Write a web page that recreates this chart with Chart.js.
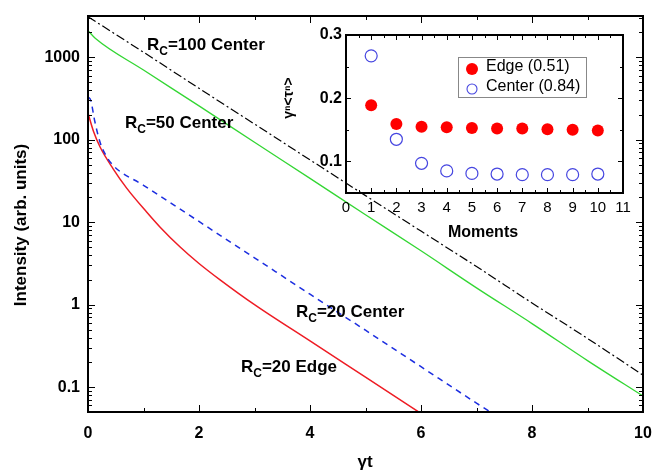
<!DOCTYPE html>
<html>
<head>
<meta charset="utf-8">
<script src="https://cdn.jsdelivr.net/npm/chart.js@4.4.1/dist/chart.umd.min.js"></script>
<style>
  body { margin: 0; background: #fff; }
  #wrap { position: relative; width: 652px; height: 471px; }
  #wrap canvas { position: absolute; left: 0; top: 0; }
</style>
</head>
<body>
<div id="wrap">
  <canvas id="mainChart" width="652" height="471"></canvas>
  <canvas id="insetChart" width="652" height="471"></canvas>
</div>
<script>
// main plot: intensity vs gamma*t (log scale)
const tC100 = [0, 1, 2, 3, 4, 5, 6, 7, 8, 9, 10];
const iC100 = [3100, 1150, 420, 155, 57, 21, 7.8, 2.9, 1.05, 0.39, 0.14];

const tC50 = [0, 0.13, 1, 2, 3, 4, 5, 6, 7, 8, 9, 10];
const iC50 = [2100, 1700, 700, 257, 93, 34, 12.3, 4.5, 1.6, 0.59, 0.21, 0.078];

const tC20 = [0, 0.05, 0.12, 0.22, 0.32, 0.45, 1, 2, 3, 4, 5, 6, 7, 7.4];
const iC20 = [330, 300, 170, 92, 65, 49, 28, 10.2, 3.7, 1.34, 0.49, 0.177, 0.064, 0.043];

const tE20 = [0, 0.1, 0.22, 0.45, 0.7, 1.06, 1.3, 1.66, 2, 2.38, 3, 4, 5, 6];
const iE20 = [210, 126, 81, 44.7, 25.7, 13.2, 8.7, 5.0, 3.16, 2.0, 1.0, 0.363, 0.132, 0.048];

const xTickLabels = ['0', '2', '4', '6', '8', '10'];
const yTickVals = [0.1, 1, 10, 100, 1000];
const yTickLabels = ['0.1', '1', '10', '100', '1000'];

// inset: moments
const moments = [1, 2, 3, 4, 5, 6, 7, 8, 9, 10];
const edgeVals = [0.189, 0.159, 0.155, 0.154, 0.153, 0.152, 0.152, 0.151, 0.150, 0.149];
const centerVals = [0.267, 0.135, 0.097, 0.085, 0.081, 0.080, 0.079, 0.079, 0.079, 0.080];
const insetXLabels = ['0', '1', '2', '3', '4', '5', '6', '7', '8', '9', '10', '11'];
const insetYVals = [0.1, 0.2, 0.3];
const insetYLabels = ['0.1', '0.2', '0.3'];

const FONT = '"Liberation Sans", Arial, sans-serif';

const pts = (xs, ys) => xs.map((x, i) => ({ x: x, y: ys[i] }));

// no automatic label overhang, the layout padding decides
const noPad = s => { s.paddingLeft = 0; s.paddingRight = 0; s.paddingTop = 0; s.paddingBottom = 0; };

// frame + inward ticks on all four sides
const framePlugin = {
  id: 'frame',
  afterDatasetsDraw(chart, args, o) {
    const ctx = chart.ctx, a = chart.chartArea;
    const sx = chart.scales.x, sy = chart.scales.y;
    ctx.save();
    ctx.strokeStyle = '#000';
    ctx.lineWidth = 1;
    const tick = (vals, len, horiz) => {
      vals.forEach(v => {
        if (horiz) {
          const p = Math.round(sx.getPixelForValue(v)) + 0.5;
          ctx.beginPath();
          ctx.moveTo(p, a.bottom); ctx.lineTo(p, a.bottom - len);
          ctx.moveTo(p, a.top); ctx.lineTo(p, a.top + len);
          ctx.stroke();
        } else {
          const p = Math.round(sy.getPixelForValue(v)) + 0.5;
          ctx.beginPath();
          ctx.moveTo(a.left, p); ctx.lineTo(a.left + len, p);
          ctx.moveTo(a.right, p); ctx.lineTo(a.right - len, p);
          ctx.stroke();
        }
      });
    };
    tick(o.xMajor, o.major, true);
    tick(o.xMinor, o.minor, true);
    tick(o.yMajor, o.major, false);
    tick(o.yMinor, o.minor, false);
    ctx.lineWidth = 2;
    ctx.strokeRect(a.left, a.top, a.right - a.left, a.bottom - a.top);
    ctx.restore();
  }
};

function subText(ctx, x, y, main, sub, rest) {
  ctx.font = 'bold 17px ' + FONT;
  ctx.fillText(main, x, y);
  x += ctx.measureText(main).width;
  ctx.font = 'bold 12px ' + FONT;
  ctx.fillText(sub, x, y + 5);
  x += ctx.measureText(sub).width;
  ctx.font = 'bold 17px ' + FONT;
  ctx.fillText(rest, x, y);
}

const mainText = {
  id: 'mainText',
  afterDraw(chart) {
    const ctx = chart.ctx;
    ctx.save();
    ctx.fillStyle = '#000';
    ctx.textAlign = 'left';
    ctx.textBaseline = 'alphabetic';
    subText(ctx, 147, 50, 'R', 'C', '=100 Center');
    subText(ctx, 125, 128, 'R', 'C', '=50 Center');
    subText(ctx, 296, 317, 'R', 'C', '=20 Center');
    subText(ctx, 241, 372, 'R', 'C', '=20 Edge');
    ctx.font = 'bold 17px ' + FONT;
    ctx.textAlign = 'center';
    ctx.textBaseline = 'middle';
    ctx.fillText('\u03B3t', 365, 462);
    ctx.translate(21, 225);
    ctx.rotate(-Math.PI / 2);
    ctx.fillText('Intensity (arb. units)', 0, 0);
    ctx.restore();
  }
};

// minor log ticks
const logMinor = [];
[0.01, 0.1, 1, 10, 100, 1000].forEach(d => {
  for (let k = 2; k <= 9; k++) {
    const v = d * k;
    if (v > 0.05 && v < 3162) logMinor.push(v);
  }
});

new Chart(document.getElementById('mainChart'), {
  type: 'line',
  data: {
    datasets: [
      { data: pts(tC100, iC100), borderColor: '#000', borderWidth: 1.2, borderDash: [9, 3, 2, 3] },
      { data: pts(tC50, iC50), borderColor: '#33d633', borderWidth: 1.3 },
      { data: pts(tC20, iC20), borderColor: '#1c2ee0', borderWidth: 1.5, borderDash: [6, 5] },
      { data: pts(tE20, iE20), borderColor: '#ee1c24', borderWidth: 1.5 }
    ]
  },
  options: {
    responsive: false,
    animation: false,
    elements: { point: { radius: 0 }, line: { cubicInterpolationMode: 'monotone', fill: false } },
    layout: { padding: { top: 16, right: 9, left: 0, bottom: 0 } },
    plugins: {
      legend: { display: false },
      tooltip: { enabled: false },
      frame: { xMajor: [0, 2, 4, 6, 8, 10], xMinor: [1, 3, 5, 7, 9], yMajor: yTickVals, yMinor: logMinor, major: 7, minor: 4 }
    },
    scales: {
      x: {
        type: 'linear', min: 0, max: 10,
        grid: { display: false, drawTicks: false },
        border: { display: false },
        ticks: {
          stepSize: 2, padding: 12, color: '#000',
          font: { family: FONT, size: 16, weight: 'bold' },
          callback: (v, i) => xTickLabels[i]
        },
        afterFit: s => { s.height = 59; noPad(s); }
      },
      y: {
        type: 'logarithmic', min: 0.05, max: 3162,
        grid: { display: false, drawTicks: false },
        border: { display: false },
        afterBuildTicks: s => { s.ticks = yTickVals.map(v => ({ value: v })); },
        ticks: {
          autoSkip: false, padding: 8, color: '#000',
          font: { family: FONT, size: 16, weight: 'bold' },
          callback: (v, i) => yTickLabels[i]
        },
        afterFit: s => { s.width = 88; noPad(s); }
      }
    }
  },
  plugins: [framePlugin, mainText]
});

const insetText = {
  id: 'insetText',
  afterDraw(chart) {
    const ctx = chart.ctx;
    ctx.save();
    // legend box
    ctx.strokeStyle = '#888';
    ctx.lineWidth = 1;
    ctx.strokeRect(458.5, 57.5, 128, 40);
    ctx.fillStyle = '#ff0000';
    ctx.beginPath(); ctx.arc(472, 69, 6, 0, Math.PI * 2); ctx.fill();
    ctx.strokeStyle = '#4646e0';
    ctx.lineWidth = 1.1;
    ctx.beginPath(); ctx.arc(472, 89, 5, 0, Math.PI * 2); ctx.stroke();
    ctx.fillStyle = '#000';
    ctx.font = '16px ' + FONT;
    ctx.textAlign = 'left';
    ctx.textBaseline = 'middle';
    ctx.fillText('Edge (0.51)', 486, 67);
    ctx.fillText('Center (0.84)', 486, 87);
    // axis titles
    ctx.font = 'bold 16px ' + FONT;
    ctx.textAlign = 'center';
    ctx.fillText('Moments', 483, 233);
    ctx.font = 'bold 14px ' + FONT;
    ctx.translate(289, 98);
    ctx.rotate(-Math.PI / 2);
    ctx.fillText('\u03B3\u207F<\u03C4\u207F>', 0, 0);
    ctx.restore();
  }
};

new Chart(document.getElementById('insetChart'), {
  type: 'scatter',
  data: {
    datasets: [
      { label: 'Edge (0.51)', data: pts(moments, edgeVals), pointRadius: 6, backgroundColor: '#ff0000', borderColor: '#ff0000', borderWidth: 0 },
      { label: 'Center (0.84)', data: pts(moments, centerVals), pointRadius: 6, backgroundColor: 'rgba(0,0,0,0)', borderColor: '#4646e0', borderWidth: 1.2 }
    ]
  },
  options: {
    responsive: false,
    animation: false,
    layout: { padding: { top: 35, right: 29, left: 0, bottom: 0 } },
    plugins: {
      legend: { display: false },
      tooltip: { enabled: false },
      frame: { xMajor: [0, 1, 2, 3, 4, 5, 6, 7, 8, 9, 10, 11], xMinor: [0.5, 1.5, 2.5, 3.5, 4.5, 5.5, 6.5, 7.5, 8.5, 9.5, 10.5], yMajor: insetYVals, yMinor: [0.15, 0.25], major: 5, minor: 3 }
    },
    scales: {
      x: {
        type: 'linear', min: 0, max: 11,
        grid: { display: false, drawTicks: false },
        border: { display: false },
        ticks: {
          stepSize: 1, autoSkip: false, padding: 6, color: '#000',
          font: { family: FONT, size: 15 },
          callback: (v, i) => insetXLabels[i]
        },
        afterFit: s => { s.height = 278; noPad(s); }
      },
      y: {
        type: 'linear', min: 0.05, max: 0.3,
        grid: { display: false, drawTicks: false },
        border: { display: false },
        afterBuildTicks: s => { s.ticks = insetYVals.map(v => ({ value: v })); },
        ticks: {
          autoSkip: false, padding: 4, color: '#000',
          font: { family: FONT, size: 16, weight: 'bold' },
          callback: (v, i) => insetYLabels[i]
        },
        afterFit: s => { s.width = 346; noPad(s); }
      }
    }
  },
  plugins: [framePlugin, insetText]
});
</script>
</body>
</html>
